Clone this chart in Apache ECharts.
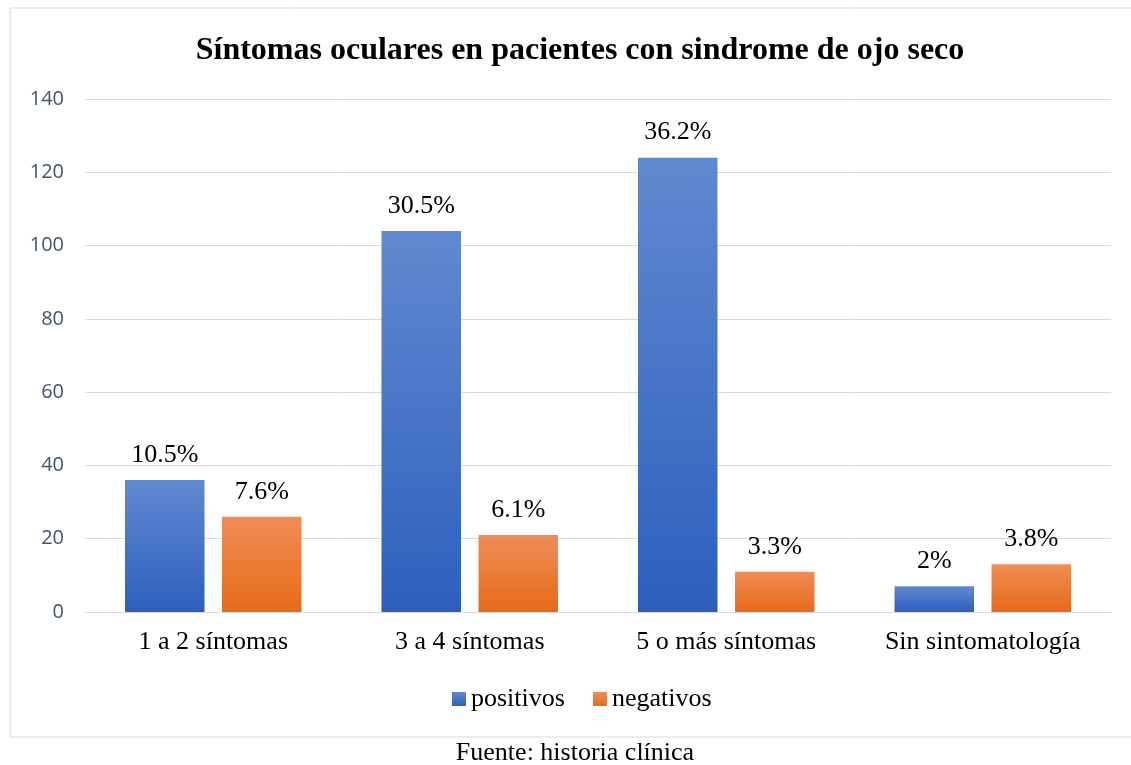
<!DOCTYPE html>
<html>
<head>
<meta charset="utf-8">
<script src="https://cdn.jsdelivr.net/npm/echarts@6/dist/echarts.min.js"></script>
<style>
  html, body { margin: 0; padding: 0; background: #fff; }
  #main { width: 1131px; height: 765px; }
</style>
</head>
<body>
<div id="main"></div>
<script>
var categories = ["1 a 2 síntomas", "3 a 4 síntomas", "5 o más síntomas", "Sin sintomatología"];
var positivos = [36, 104, 124, 7];
var negativos = [26, 21, 11, 13];
var positivosPct = ["10.5%", "30.5%", "36.2%", "2%"];
var negativosPct = ["7.6%", "6.1%", "3.3%", "3.8%"];
var yTicks = { min: 0, max: 140, interval: 20 };

var serif = "'Liberation Serif', 'Times New Roman', serif";

function grad(top, bottom) {
  return new echarts.graphic.LinearGradient(0, 0, 0, 1, [
    { offset: 0, color: top },
    { offset: 1, color: bottom }
  ]);
}

var myChart = echarts.init(document.getElementById("main"));
var option = {
  animation: false,
  title: {
    text: "Síntomas oculares en pacientes con sindrome de ojo seco",
    left: 575,
    textAlign: "center",
    top: 30,
    textStyle: { fontFamily: serif, fontSize: 32, fontWeight: "bold", color: "#000" }
  },
  graphic: [
    {
      type: "rect",
      shape: { x: 10, y: 8, width: 1130, height: 729 },
      style: { fill: "none", stroke: "#d9d9d9", lineWidth: 1 },
      silent: true
    },
    {
      type: "text",
      x: 575,
      y: 740,
      style: { text: "Fuente: historia clínica", font: "26px " + serif, fill: "#000", textAlign: "center" }
    }
  ],
  grid: { left: 85, right: 20, top: 99, bottom: 153 },
  legend: {
    bottom: 48,
    left: 447,
    itemWidth: 14,
    itemHeight: 14,
    itemGap: 28,
    icon: "rect",
    textStyle: { fontFamily: serif, fontSize: 26, color: "#000" },
    data: ["positivos", "negativos"]
  },
  xAxis: {
    type: "category",
    data: categories,
    axisLine: { lineStyle: { color: "#d9d9d9" } },
    axisTick: { show: false },
    axisLabel: { fontFamily: serif, fontSize: 26, color: "#000", margin: 17 }
  },
  yAxis: {
    type: "value",
    min: yTicks.min,
    max: yTicks.max,
    interval: yTicks.interval,
    axisLine: { show: false },
    axisTick: { show: false },
    splitLine: { lineStyle: { color: "#d9d9d9" } },
    axisLabel: { fontFamily: "'Open Sans', 'Liberation Sans', sans-serif", fontSize: 20, color: "#44546a", margin: 21 }
  },
  series: [
    {
      name: "positivos",
      type: "bar",
      data: positivos,
      barWidth: "31%",
      barGap: "22%",
      itemStyle: { color: grad("#6189d0", "#2c5fbd") },
      label: {
        show: true,
        position: "top",
        distance: 12,
        fontFamily: serif,
        fontSize: 26,
        color: "#000",
        formatter: function (p) { return positivosPct[p.dataIndex]; }
      }
    },
    {
      name: "negativos",
      type: "bar",
      data: negativos,
      barWidth: "31%",
      itemStyle: { color: grad("#f08d58", "#e66b17") },
      label: {
        show: true,
        position: "top",
        distance: 12,
        fontFamily: serif,
        fontSize: 26,
        color: "#000",
        formatter: function (p) { return negativosPct[p.dataIndex]; }
      }
    }
  ]
};
myChart.setOption(option);
</script>
</body>
</html>
